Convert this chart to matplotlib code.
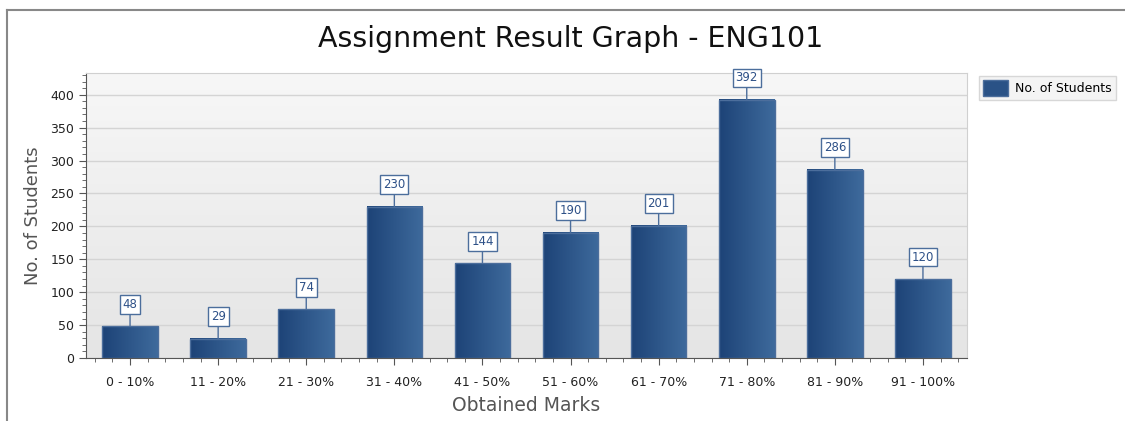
import matplotlib.pyplot as plt
import numpy as np
from matplotlib.colors import LinearSegmentedColormap
from matplotlib.patches import Rectangle
from matplotlib.lines import Line2D
from matplotlib.ticker import MultipleLocator

# Data
categories = ['0 - 10%', '11 - 20%', '21 - 30%', '31 - 40%', '41 - 50%',
              '51 - 60%', '61 - 70%', '71 - 80%', '81 - 90%', '91 - 100%']
students = [48, 29, 74, 230, 144, 190, 201, 392, 286, 120]

plt.rcParams['font.family'] = ['DejaVu Sans']

fig = plt.figure(figsize=(11.25, 4.21), dpi=100)
W, H = 1125, 421
ax = fig.add_axes([86 / W, (H - 358) / H, 881 / W, 285 / H])

# plot background gradient
bg = LinearSegmentedColormap.from_list('bg', ['#e5e5e5', '#f7f7f7'])
ax.imshow(np.linspace(0, 1, 100).reshape(-1, 1), cmap=bg, origin='lower',
          extent=[0, 1, 0, 1], transform=ax.transAxes, aspect='auto', zorder=0)

# bars with horizontal gradient
bar_cmap = LinearSegmentedColormap.from_list('bar', ['#1d4377', '#3e6a9c'])
grad = np.linspace(0, 1, 100).reshape(1, -1)
w = 0.63
x = np.arange(len(categories))
for xi, v in zip(x, students):
    ax.imshow(grad, cmap=bar_cmap, extent=[xi - w / 2, xi + w / 2, 0, v],
              aspect='auto', zorder=2)
    ax.add_patch(Rectangle((xi - w / 2, 0), w, v, fill=False,
                           edgecolor='#4c6e9c', lw=1, zorder=3))
    ax.annotate(str(v), xy=(xi, v), xytext=(0, 22), textcoords='offset pixels',
                ha='center', va='center', fontsize=8.5, color='#2d5087',
                bbox=dict(boxstyle='square,pad=0.25', fc='white', ec='#4c6e9c', lw=1),
                arrowprops=dict(arrowstyle='-', color='#4c6e9c', lw=1,
                                shrinkA=0, shrinkB=0),
                zorder=4)

ax.set_xlim(-0.5, len(categories) - 0.5)
ax.set_ylim(0, 433)

ax.yaxis.set_major_locator(MultipleLocator(50))
ax.yaxis.set_minor_locator(MultipleLocator(10))
ax.set_xticks(x)
ax.set_xticklabels(categories)
ax.xaxis.set_minor_locator(MultipleLocator(0.2))
ax.tick_params(axis='both', which='major', length=5, color='#555555',
               labelsize=9, labelcolor='#222222')
ax.tick_params(axis='both', which='minor', length=3, color='#555555')
ax.tick_params(axis='x', which='major', pad=8)

ax.grid(axis='y', which='major', color='#d4d4d4', lw=1, zorder=1)
ax.set_axisbelow(True)

for s in ['left', 'bottom']:
    ax.spines[s].set_color('#555555')
for s in ['top', 'right']:
    ax.spines[s].set_color('#d0d0d0')

ax.set_ylabel('No. of Students', fontsize=13, color='#555555', labelpad=6)
ax.set_xlabel('Obtained Marks', fontsize=13.5, color='#555555', labelpad=5)

fig.text(0.507, 0.908, 'Assignment Result Graph - ENG101', ha='center',
         va='center', fontsize=20.5, color='#111111')

# legend
leg = ax.legend([Rectangle((0, 0), 1, 1, fc='#2a5286', ec='#4c6e9c')],
                ['No. of Students'], loc='upper left',
                bbox_to_anchor=(979 / W, (H - 76) / H), bbox_transform=fig.transFigure,
                fontsize=9, frameon=True, fancybox=False, handlelength=2.0,
                handleheight=1.5, handletextpad=0.5, borderpad=0.35,
                borderaxespad=0)
leg.get_frame().set_facecolor('#f2f2f2')
leg.get_frame().set_edgecolor('#cfcfcf')

# outer frame
fig.add_artist(Line2D([7 / W, 1], [(H - 10) / H] * 2, color='#888888', lw=1.5))
fig.add_artist(Line2D([7 / W] * 2, [0, (H - 10) / H], color='#888888', lw=1.5))

fig.savefig('out.png', dpi=100)
